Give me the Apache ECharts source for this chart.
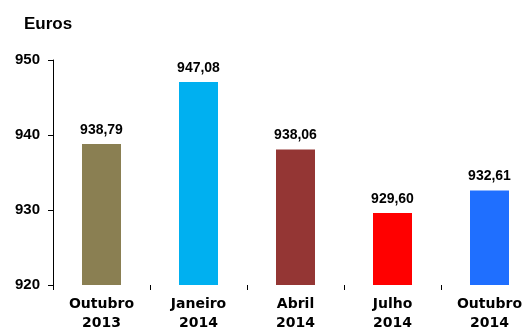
<!DOCTYPE html>
<html><head><meta charset="utf-8">
<script src="https://cdn.jsdelivr.net/npm/echarts@6/dist/echarts.min.js"></script>
<style>html,body{margin:0;padding:0;background:#fff;overflow:hidden}#c{width:524px;height:327px}</style>
</head><body><div id="c"></div>
<script>
var categories = ["Outubro\n2013", "Janeiro\n2014", "Abril\n2014", "Julho\n2014", "Outubro\n2014"];
var values = [938.79, 947.08, 938.06, 929.60, 932.61];
var barColors = ["#8A7F52", "#00B0F0", "#943634", "#FF0000", "#1F6FFF"];
var yTicks = [920, 930, 940, 950];

var chart = echarts.init(document.getElementById('c'), null, {renderer: 'canvas', width: 524, height: 327});
chart.setOption({
  animation: false,
  backgroundColor: '#fff',
  title: {text: 'Euros', left: 24, top: 16, padding: 0,
    textStyle: {fontFamily: 'Liberation Sans', fontWeight: 'bold', fontSize: 17, color: '#000'}},
  grid: {left: 53, top: 60, width: 485, height: 225, outerBoundsMode: 'none'},
  xAxis: {
    type: 'category', data: categories,
    axisLine: {show: false},
    axisTick: {show: true, interval: 0, length: 5, lineStyle: {color: '#000'}},
    axisLabel: {interval: 0, margin: 10, fontFamily: 'DejaVu Sans', fontWeight: 'bold', fontSize: 14, lineHeight: 19, color: '#000'}
  },
  yAxis: {
    type: 'value', min: yTicks[0], max: yTicks[yTicks.length - 1], interval: 10,
    splitLine: {show: false},
    axisLine: {show: true, lineStyle: {color: '#000', width: 1}},
    axisTick: {show: true, length: 5, lineStyle: {color: '#000'}},
    axisLabel: {margin: 13, fontFamily: 'Liberation Sans', fontWeight: 'bold', fontSize: 15, color: '#000'}
  },
  series: [{
    type: 'bar', barWidth: 39,
    data: values.map(function (v, i) { return {value: v, itemStyle: {color: barColors[i]}}; }),
    label: {show: true, position: 'top', distance: 7,
      fontFamily: 'Liberation Sans', fontWeight: 'bold', fontSize: 14, color: '#000',
      formatter: function (p) { return p.value.toFixed(2).replace('.', ','); }}
  }]
});
</script></body></html>
